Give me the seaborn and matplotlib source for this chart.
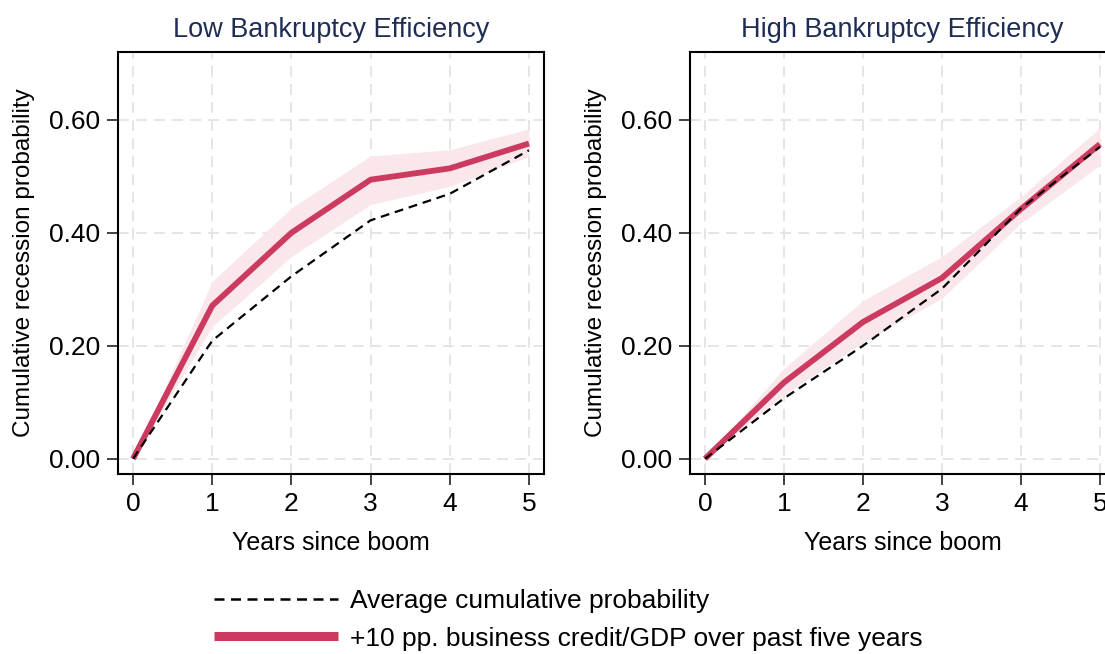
import numpy as np
import pandas as pd
import matplotlib
matplotlib.use("Agg")
import matplotlib.pyplot as plt
import seaborn as sns
from matplotlib.lines import Line2D

years = [0, 1, 2, 3, 4, 5]

# Low bankruptcy efficiency
low_avg = [0.0, 0.209, 0.323, 0.422, 0.469, 0.546]
low_boom = [0.0, 0.271, 0.400, 0.494, 0.514, 0.558]
low_lo = [0.0, 0.234, 0.358, 0.450, 0.482, 0.535]
low_hi = [0.0, 0.314, 0.444, 0.536, 0.547, 0.584]

# High bankruptcy efficiency
high_avg = [0.0, 0.107, 0.200, 0.301, 0.443, 0.552]
high_boom = [0.0, 0.135, 0.242, 0.320, 0.442, 0.557]
high_lo = [0.0, 0.113, 0.206, 0.284, 0.417, 0.520]
high_hi = [0.0, 0.160, 0.280, 0.358, 0.464, 0.586]

titles = ["Low Bankruptcy Efficiency", "High Bankruptcy Efficiency"]
legend_labels = ["Average cumulative probability",
                 "+10 pp. business credit/GDP over past five years"]
yticks = [0.0, 0.2, 0.4, 0.6]
ytick_labels = ["0.00", "0.20", "0.40", "0.60"]

RED = "#CC3A60"
BAND = "#F9E7EB"
TITLE_C = "#1F2D55"

sns.set_theme(style="white")
plt.rcParams['font.family'] = ['Liberation Sans', 'DejaVu Sans']
plt.rcParams['text.color'] = 'black'
plt.rcParams['axes.labelcolor'] = 'black'
plt.rcParams['xtick.color'] = 'black'
plt.rcParams['ytick.color'] = 'black'

fig = plt.figure(figsize=(11.05, 6.54), dpi=100)
ax1 = fig.add_axes([0.1068, 0.2752, 0.3855, 0.6453])
ax2 = fig.add_axes([0.6244, 0.2752, 0.3846, 0.6453])

panels = [
    (ax1, low_avg, low_boom, low_lo, low_hi),
    (ax2, high_avg, high_boom, high_lo, high_hi),
]

for i, (ax, avg, boom, lo, hi) in enumerate(panels):
    df = pd.DataFrame({"Years since boom": years, "avg": avg, "boom": boom})
    ax.fill_between(years, lo, hi, color=BAND, lw=0, zorder=1)
    sns.lineplot(data=df, x="Years since boom", y="boom", ax=ax, color=RED,
                 lw=4.2, zorder=3, solid_capstyle="butt")
    sns.lineplot(data=df, x="Years since boom", y="avg", ax=ax, color="black",
                 lw=1.6, linestyle=(0, (4, 2.6)), zorder=4)
    ax.set_xlim(-0.19, 5.19)
    ax.set_ylim(-0.027, 0.72)
    ax.set_xticks(years)
    ax.set_xticklabels([str(y) for y in years])
    ax.set_yticks(yticks)
    ax.set_yticklabels(ytick_labels)
    ax.grid(True, color="#E3E3E3", lw=1.3, linestyle=(0, (6, 4)), zorder=0)
    ax.set_axisbelow(True)
    for s in ax.spines.values():
        s.set_color("black")
        s.set_linewidth(1.5)
        s.set_visible(True)
    ax.tick_params(axis="both", which="both", direction="out", length=8,
                   width=1.3, color="#333333", labelsize=19, pad=5,
                   bottom=True, left=True, labelcolor="black")
    ax.set_xlabel("Years since boom", fontsize=18, labelpad=11)
    ax.set_ylabel("Cumulative recession probability", fontsize=17.5, labelpad=10)
    ax.set_title(titles[i], fontsize=19.5, color=TITLE_C, pad=11)

handles = [
    Line2D([], [], color="black", lw=1.8, linestyle=(0, (4, 2.6))),
    Line2D([], [], color=RED, lw=6.5, solid_capstyle="butt"),
]
fig.legend(handles, legend_labels, loc="center", bbox_to_anchor=(0.514, 0.052),
           ncol=1, frameon=False, fontsize=19, handlelength=4.7,
           handletextpad=0.45, labelspacing=0.5)

fig.savefig("out.png", dpi=100)
